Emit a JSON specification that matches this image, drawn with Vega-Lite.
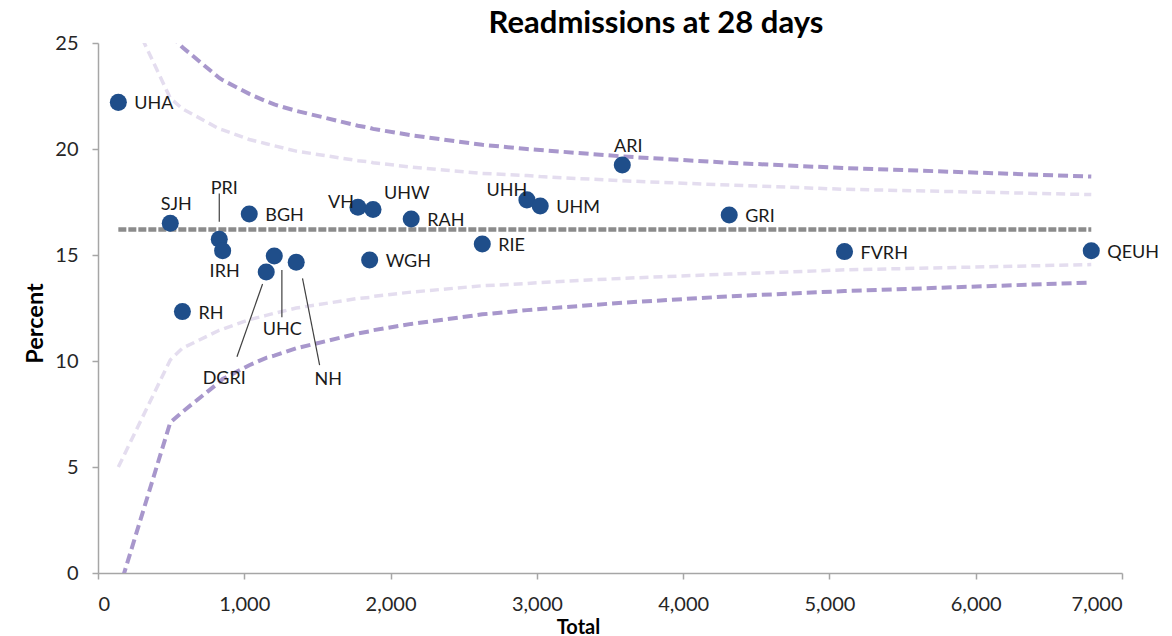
{
  "$schema": "https://vega.github.io/schema/vega-lite/v6.json",
  "description": "Funnel plot of readmissions at 28 days by hospital.",
  "autosize": {"type": "none"},
  "width": 1024,
  "height": 530,
  "padding": {"left": 98, "top": 43, "right": 50, "bottom": 63},
  "background": "white",
  "title": {
    "text": "Readmissions at 28 days",
    "font": "Lato",
    "fontSize": 31,
    "fontWeight": "bold",
    "color": "#000000",
    "anchor": "middle",
    "dx": 46,
    "dy": 33,
    "baseline": "alphabetic",
    "offset": 2
  },
  "datasets": {
    "hospitals": [
      {"name": "UHA", "total": 139, "pct": 22.2},
      {"name": "SJH", "total": 494, "pct": 16.5},
      {"name": "RH", "total": 577, "pct": 12.33},
      {"name": "PRI", "total": 829, "pct": 15.74},
      {"name": "IRH", "total": 852, "pct": 15.2},
      {"name": "BGH", "total": 1034, "pct": 16.93},
      {"name": "DGRI", "total": 1150, "pct": 14.2},
      {"name": "UHC", "total": 1205, "pct": 14.95},
      {"name": "NH", "total": 1355, "pct": 14.66},
      {"name": "VH", "total": 1777, "pct": 17.25},
      {"name": "WGH", "total": 1857, "pct": 14.76},
      {"name": "UHW", "total": 1880, "pct": 17.15},
      {"name": "RAH", "total": 2141, "pct": 16.7},
      {"name": "RIE", "total": 2627, "pct": 15.52},
      {"name": "UHH", "total": 2932, "pct": 17.6},
      {"name": "UHM", "total": 3023, "pct": 17.31},
      {"name": "ARI", "total": 3584, "pct": 19.25},
      {"name": "GRI", "total": 4315, "pct": 16.89},
      {"name": "FVRH", "total": 5103, "pct": 15.16},
      {"name": "QEUH", "total": 6790, "pct": 15.2}
    ],
    "limits": [
      {"total": 139, "mean": 16.2, "lo998": -0.9, "lo95": 5.0, "hi95": 27.6, "hi998": 33.5},
      {"total": 494, "mean": 16.2, "lo998": 7.1, "lo95": 10.05, "hi95": 22.4, "hi998": 25.4},
      {"total": 577, "mean": 16.2, "lo998": 7.6, "lo95": 10.6, "hi95": 21.9, "hi998": 24.8},
      {"total": 829, "mean": 16.2, "lo998": 9.0, "lo95": 11.45, "hi95": 20.95, "hi998": 23.35},
      {"total": 852, "mean": 16.2, "lo998": 9.15, "lo95": 11.5, "hi95": 20.9, "hi998": 23.25},
      {"total": 1034, "mean": 16.2, "lo998": 9.8, "lo95": 11.95, "hi95": 20.45, "hi998": 22.6},
      {"total": 1150, "mean": 16.2, "lo998": 10.15, "lo95": 12.15, "hi95": 20.25, "hi998": 22.25},
      {"total": 1205, "mean": 16.2, "lo998": 10.25, "lo95": 12.25, "hi95": 20.15, "hi998": 22.1},
      {"total": 1355, "mean": 16.2, "lo998": 10.6, "lo95": 12.5, "hi95": 19.9, "hi998": 21.8},
      {"total": 1777, "mean": 16.2, "lo998": 11.3, "lo95": 12.95, "hi95": 19.45, "hi998": 21.1},
      {"total": 1857, "mean": 16.2, "lo998": 11.4, "lo95": 13.0, "hi95": 19.4, "hi998": 21.0},
      {"total": 1880, "mean": 16.2, "lo998": 11.45, "lo95": 13.05, "hi95": 19.35, "hi998": 20.95},
      {"total": 2141, "mean": 16.2, "lo998": 11.75, "lo95": 13.25, "hi95": 19.15, "hi998": 20.65},
      {"total": 2627, "mean": 16.2, "lo998": 12.2, "lo95": 13.55, "hi95": 18.85, "hi998": 20.2},
      {"total": 2932, "mean": 16.2, "lo998": 12.4, "lo95": 13.65, "hi95": 18.75, "hi998": 20.0},
      {"total": 3023, "mean": 16.2, "lo998": 12.45, "lo95": 13.7, "hi95": 18.7, "hi998": 19.95},
      {"total": 3584, "mean": 16.2, "lo998": 12.75, "lo95": 13.9, "hi95": 18.5, "hi998": 19.65},
      {"total": 4315, "mean": 16.2, "lo998": 13.05, "lo95": 14.1, "hi95": 18.3, "hi998": 19.35},
      {"total": 5103, "mean": 16.2, "lo998": 13.3, "lo95": 14.3, "hi95": 18.1, "hi998": 19.1},
      {"total": 6790, "mean": 16.2, "lo998": 13.7, "lo95": 14.55, "hi95": 17.85, "hi998": 18.7}
    ],
    "leaders": [
      {"name": "PRI", "total": 829, "pct": 16.57, "total2": 829, "pct2": 17.9},
      {"name": "DGRI", "total": 1125, "pct": 13.63, "total2": 950, "pct2": 10.2},
      {"name": "UHC", "total": 1257, "pct": 14.29, "total2": 1257, "pct2": 12.06},
      {"name": "NH", "total": 1398, "pct": 13.9, "total2": 1515, "pct2": 9.81}
    ]
  },
  "encoding": {
    "x": {
      "field": "total",
      "type": "quantitative",
      "scale": {"domain": [0, 7000], "nice": false},
      "axis": {
        "title": "Total",
        "values": [0, 1000, 2000, 3000, 4000, 5000, 6000, 7000],
        "format": ",d",
        "titleX": 480,
        "titleY": 60,
        "titleBaseline": "alphabetic",
        "titleFontSize": 20
      }
    },
    "y": {
      "type": "quantitative",
      "scale": {"domain": [0, 25], "nice": false},
      "axis": {
        "title": "Percent",
        "values": [0, 5, 10, 15, 20, 25],
        "titleX": -56,
        "titleY": 280,
        "titleAngle": -90,
        "titleBaseline": "alphabetic",
        "titleAlign": "center",
        "titleFontSize": 23.5
      }
    }
  },
  "layer": [
    {
      "data": {"name": "limits"},
      "mark": {"type": "line", "clip": true, "color": "#e4ddef", "strokeWidth": 3.5, "strokeDash": [9, 5]},
      "encoding": {"y": {"field": "lo95", "type": "quantitative"}}
    },
    {
      "data": {"name": "limits"},
      "mark": {"type": "line", "clip": true, "color": "#e4ddef", "strokeWidth": 3.5, "strokeDash": [9, 5]},
      "encoding": {"y": {"field": "hi95", "type": "quantitative"}}
    },
    {
      "data": {"name": "limits"},
      "mark": {"type": "line", "clip": true, "color": "#a897cc", "strokeWidth": 4, "strokeDash": [10, 5]},
      "encoding": {"y": {"field": "lo998", "type": "quantitative"}}
    },
    {
      "data": {"name": "limits"},
      "mark": {"type": "line", "clip": true, "color": "#a897cc", "strokeWidth": 4, "strokeDash": [10, 5]},
      "encoding": {"y": {"field": "hi998", "type": "quantitative"}}
    },
    {
      "data": {"name": "limits"},
      "mark": {"type": "line", "clip": true, "color": "#8c8c8c", "strokeWidth": 4.5, "strokeDash": [8, 2]},
      "encoding": {"y": {"field": "mean", "type": "quantitative"}}
    },
    {
      "data": {"name": "leaders"},
      "mark": {"type": "rule", "color": "#404040", "strokeWidth": 1.2},
      "encoding": {
        "y": {"field": "pct", "type": "quantitative"},
        "x2": {"field": "total2"},
        "y2": {"field": "pct2"}
      }
    },
    {
      "data": {"name": "hospitals"},
      "mark": {"type": "circle", "size": 290, "color": "#1f4e8a", "opacity": 1},
      "encoding": {"y": {"field": "pct", "type": "quantitative"}}
    },
    {
      "data": {"name": "hospitals"},
      "transform": [{"filter": {"field": "name", "oneOf": ["UHA", "BGH", "RH", "RAH", "WGH", "RIE", "UHM", "GRI", "FVRH", "QEUH"]}}],
      "mark": {"type": "text", "align": "left", "baseline": "middle", "dx": 16, "dy": 2, "font": "Lato", "fontSize": 18, "color": "#1a1a1a"},
      "encoding": {"y": {"field": "pct", "type": "quantitative"}, "text": {"field": "name"}}
    },
    {
      "data": {"name": "hospitals"},
      "transform": [{"filter": {"field": "name", "equal": "UHW"}}],
      "mark": {"type": "text", "align": "left", "baseline": "middle", "dx": 11, "dy": -15, "font": "Lato", "fontSize": 18, "color": "#1a1a1a"},
      "encoding": {"y": {"field": "pct", "type": "quantitative"}, "text": {"field": "name"}}
    },
    {
      "data": {"name": "hospitals"},
      "transform": [{"filter": {"field": "name", "equal": "VH"}}],
      "mark": {"type": "text", "align": "right", "baseline": "middle", "dx": -4, "dy": -4, "font": "Lato", "fontSize": 18, "color": "#1a1a1a"},
      "encoding": {"y": {"field": "pct", "type": "quantitative"}, "text": {"field": "name"}}
    },
    {
      "data": {"name": "hospitals"},
      "transform": [{"filter": {"field": "name", "oneOf": ["SJH", "ARI"]}}],
      "mark": {"type": "text", "align": "center", "baseline": "middle", "dx": 6, "dy": -18, "font": "Lato", "fontSize": 18, "color": "#1a1a1a"},
      "encoding": {"y": {"field": "pct", "type": "quantitative"}, "text": {"field": "name"}}
    },
    {
      "data": {"name": "hospitals"},
      "transform": [{"filter": {"field": "name", "equal": "UHH"}}],
      "mark": {"type": "text", "align": "center", "baseline": "middle", "dx": -20, "dy": -9, "font": "Lato", "fontSize": 18, "color": "#1a1a1a"},
      "encoding": {"y": {"field": "pct", "type": "quantitative"}, "text": {"field": "name"}}
    },
    {
      "data": {"name": "hospitals"},
      "transform": [{"filter": {"field": "name", "equal": "PRI"}}],
      "mark": {"type": "text", "align": "center", "baseline": "middle", "dx": 5, "dy": -50, "font": "Lato", "fontSize": 18, "color": "#1a1a1a"},
      "encoding": {"y": {"field": "pct", "type": "quantitative"}, "text": {"field": "name"}}
    },
    {
      "data": {"name": "hospitals"},
      "transform": [{"filter": {"field": "name", "equal": "IRH"}}],
      "mark": {"type": "text", "align": "center", "baseline": "middle", "dx": 2, "dy": 21, "font": "Lato", "fontSize": 18, "color": "#1a1a1a"},
      "encoding": {"y": {"field": "pct", "type": "quantitative"}, "text": {"field": "name"}}
    },
    {
      "data": {"name": "hospitals"},
      "transform": [{"filter": {"field": "name", "equal": "UHC"}}],
      "mark": {"type": "text", "align": "center", "baseline": "middle", "dx": 8, "dy": 74, "font": "Lato", "fontSize": 18, "color": "#1a1a1a"},
      "encoding": {"y": {"field": "pct", "type": "quantitative"}, "text": {"field": "name"}}
    },
    {
      "data": {"name": "hospitals"},
      "transform": [{"filter": {"field": "name", "equal": "DGRI"}}],
      "mark": {"type": "text", "align": "center", "baseline": "middle", "dx": -42, "dy": 107, "font": "Lato", "fontSize": 18, "color": "#1a1a1a"},
      "encoding": {"y": {"field": "pct", "type": "quantitative"}, "text": {"field": "name"}}
    },
    {
      "data": {"name": "hospitals"},
      "transform": [{"filter": {"field": "name", "equal": "NH"}}],
      "mark": {"type": "text", "align": "center", "baseline": "middle", "dx": 32, "dy": 118, "font": "Lato", "fontSize": 18, "color": "#1a1a1a"},
      "encoding": {"y": {"field": "pct", "type": "quantitative"}, "text": {"field": "name"}}
    }
  ],
  "config": {
    "view": {"stroke": null},
    "axis": {
      "grid": false,
      "domainColor": "#a6a6a6",
      "domainWidth": 1.5,
      "tickColor": "#a6a6a6",
      "tickWidth": 1.5,
      "tickSize": 6,
      "labelFont": "Lato",
      "labelFontSize": 20,
      "labelColor": "#262626",
      "labelPadding": 15,
      "titleFont": "Lato",
      "titleFontWeight": "bold",
      "titleColor": "#000000"
    },
    "axisY": {"labelPadding": 14}
  }
}
